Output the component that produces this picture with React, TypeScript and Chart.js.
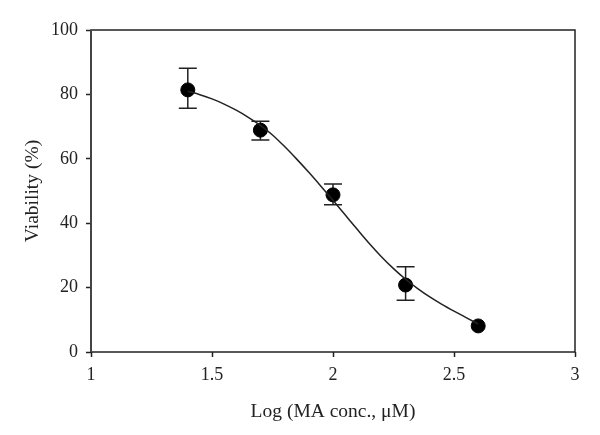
import React, { useEffect, useRef } from "react";
import { Chart, registerables } from "chart.js";

Chart.register(...registerables);

// Measured data (log concentration vs viability %)
const doseLog = [1.4, 1.7, 2.0, 2.3, 2.6];
const viability = [81.4, 68.9, 48.8, 20.8, 8.1];
const errUp = [6.7, 2.8, 3.4, 5.7, 0];
const errDown = [5.7, 3.1, 3.1, 4.7, 0];

// Fitted curve
const fitX = [1.4, 1.45, 1.5, 1.55, 1.6, 1.65, 1.7, 1.75, 1.8, 1.85, 1.9, 1.95, 2.0, 2.05, 2.1, 2.15, 2.2, 2.25, 2.3, 2.35, 2.4, 2.45, 2.5, 2.55, 2.6];
const fitY = [81.0, 79.9, 78.6, 77.0, 75.1, 72.9, 70.4, 67.4, 63.8, 59.9, 55.8, 51.5, 47.1, 42.6, 38.1, 33.7, 29.6, 25.9, 22.6, 19.7, 17.1, 14.8, 12.7, 10.7, 8.7];

const xTickValues = [1, 1.5, 2, 2.5, 3];
const yTickValues = [0, 20, 40, 60, 80, 100];

const xTitle = "Log (MA conc., \u03BCM)";
const yTitle = "Viability (%)";

const INK = "#222";
const FONT = "'Liberation Serif', 'DejaVu Serif', serif";

const errorBarPlugin = {
  id: "errorBars",
  beforeDatasetsDraw(chart: any) {
    const { ctx, scales } = chart;
    const xs = scales.x;
    const ys = scales.y;
    ctx.save();
    ctx.strokeStyle = INK;
    ctx.lineWidth = 1.5;
    const cap = 9;
    doseLog.forEach((xv, i) => {
      if (!errUp[i] && !errDown[i]) return;
      const px = xs.getPixelForValue(xv);
      const top = ys.getPixelForValue(viability[i] + errUp[i]);
      const bot = ys.getPixelForValue(viability[i] - errDown[i]);
      ctx.beginPath();
      ctx.moveTo(px, top);
      ctx.lineTo(px, bot);
      ctx.moveTo(px - cap, top);
      ctx.lineTo(px + cap, top);
      ctx.moveTo(px - cap, bot);
      ctx.lineTo(px + cap, bot);
      ctx.stroke();
    });
    ctx.restore();
  },
};

const framePlugin = {
  id: "frame",
  afterDatasetsDraw(chart: any) {
    const { ctx, chartArea } = chart;
    ctx.save();
    ctx.strokeStyle = INK;
    ctx.lineWidth = 1.5;
    ctx.strokeRect(chartArea.left, chartArea.top, chartArea.right - chartArea.left, chartArea.bottom - chartArea.top);
    ctx.lineWidth = 2;
    ctx.strokeStyle = "#444";
    ctx.beginPath();
    ctx.moveTo(chartArea.left, chartArea.top);
    ctx.lineTo(chartArea.left, chartArea.bottom);
    ctx.stroke();
    ctx.restore();
  },
};

export default function App() {
  const ref = useRef<HTMLCanvasElement>(null);

  useEffect(() => {
    document.body.style.margin = "0";
    const canvas = ref.current;
    if (!canvas) return;
    const chart = new Chart(canvas, {
      type: "scatter",
      data: {
        datasets: [
          {
            type: "line",
            label: "fit",
            data: fitX.map((x, i) => ({ x, y: fitY[i] })),
            borderColor: INK,
            borderWidth: 1.5,
            pointRadius: 0,
            fill: false,
            cubicInterpolationMode: "monotone",
          } as any,
          {
            label: "viability",
            data: doseLog.map((x, i) => ({ x, y: viability[i] })),
            backgroundColor: "#000",
            borderColor: "#000",
            pointRadius: 7,
            pointHoverRadius: 7,
          },
        ],
      },
      options: {
        responsive: false,
        animation: false,
        events: [],
        layout: { padding: { left: 0, right: 25, top: 30, bottom: 0 } },
        plugins: {
          legend: { display: false },
          tooltip: { enabled: false },
        },
        scales: {
          x: {
            type: "linear",
            min: 1,
            max: 3,
            afterBuildTicks: (s: any) => {
              s.ticks = xTickValues.map((v) => ({ value: v }));
            },
            afterFit: (s: any) => {
              s.height = 83;
            },
            border: { display: false },
            grid: {
              drawOnChartArea: false,
              drawTicks: true,
              tickLength: 5,
              color: INK,
              tickWidth: 1.5,
            },
            ticks: {
              color: INK,
              font: { family: FONT, size: 18 },
              padding: 7,
              maxRotation: 0,
              callback: (v: any) => String(v),
            },
            title: {
              display: true,
              text: xTitle,
              color: INK,
              font: { family: FONT, size: 19.5 },
              padding: { top: 0, bottom: 11 },
            },
          },
          y: {
            type: "linear",
            min: 0,
            max: 100,
            afterBuildTicks: (s: any) => {
              s.ticks = yTickValues.map((v) => ({ value: v }));
            },
            afterFit: (s: any) => {
              s.width = 91;
            },
            border: { display: false },
            grid: {
              drawOnChartArea: false,
              drawTicks: true,
              tickLength: 5,
              color: INK,
              tickWidth: 1.5,
            },
            ticks: {
              color: INK,
              font: { family: FONT, size: 18 },
              padding: 8,
              callback: (v: any) => String(v),
            },
            title: {
              display: true,
              text: yTitle,
              color: INK,
              font: { family: FONT, size: 19.5 },
              padding: { top: 21, bottom: 0 },
            },
          },
        },
      },
      plugins: [errorBarPlugin, framePlugin],
    });
    return () => chart.destroy();
  }, []);

  return <canvas ref={ref} width={600} height={435} style={{ display: "block" }} />;
}
